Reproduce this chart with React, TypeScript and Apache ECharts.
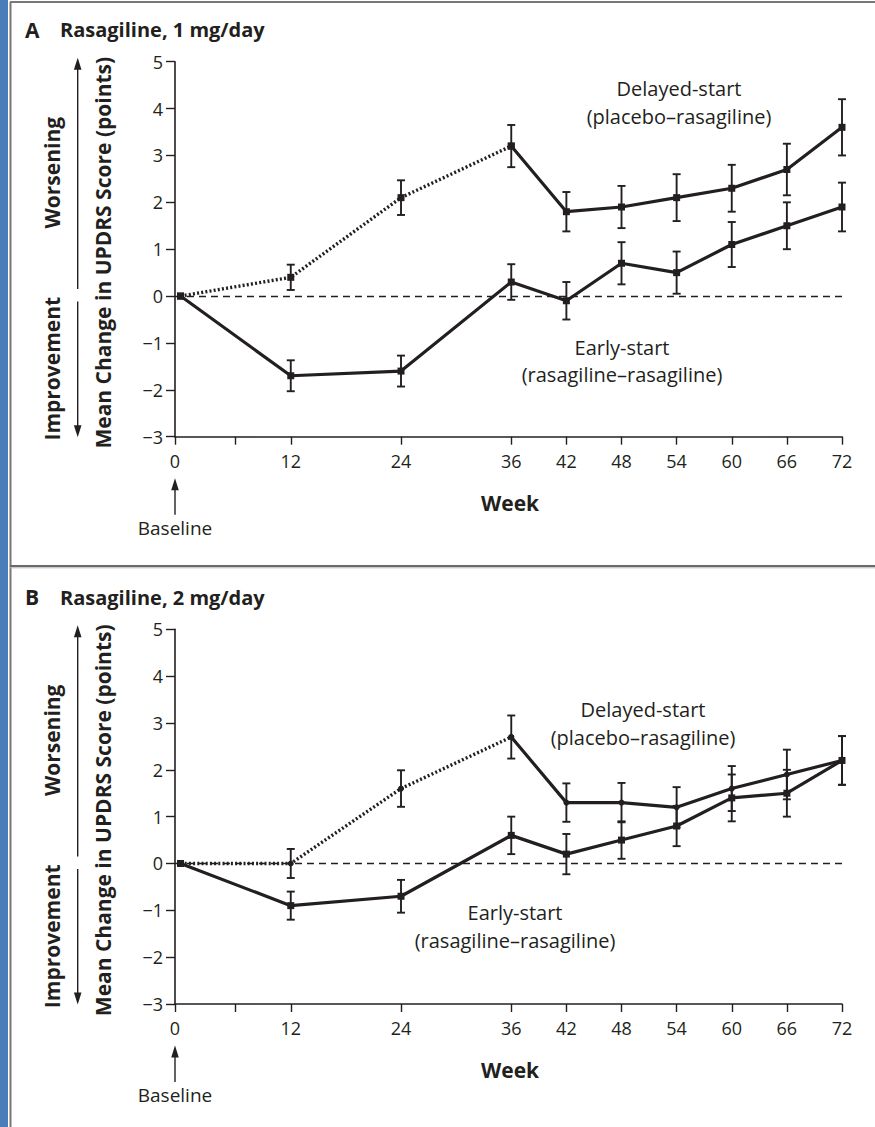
import React, { useEffect, useRef } from "react";
import * as echarts from "echarts";

// ---------- data ----------
const weeks = [0, 12, 24, 36, 42, 48, 54, 60, 66, 72];
const tickWeeks = [0, 6, 12, 24, 36, 42, 48, 54, 60, 66, 72];
const labelWeeks = [0, 12, 24, 36, 42, 48, 54, 60, 66, 72];
const switchWeek = 36; // delayed-start group switches from placebo to rasagiline

// Panel A: Rasagiline 1 mg/day
const delayedA = [0, 0.4, 2.1, 3.2, 1.8, 1.9, 2.1, 2.3, 2.7, 3.6];
const delayedAErr = [0, 0.27, 0.37, 0.45, 0.42, 0.45, 0.5, 0.5, 0.55, 0.6];
const earlyA = [0, -1.7, -1.6, 0.3, -0.1, 0.7, 0.5, 1.1, 1.5, 1.9];
const earlyAErr = [0, 0.33, 0.33, 0.38, 0.4, 0.45, 0.45, 0.48, 0.5, 0.52];

// Panel B: Rasagiline 2 mg/day
const delayedB = [0, 0, 1.6, 2.7, 1.3, 1.3, 1.2, 1.6, 1.9, 2.2];
const delayedBErr = [0, 0.31, 0.39, 0.46, 0.41, 0.42, 0.43, 0.48, 0.53, 0.52];
const earlyB = [0, -0.9, -0.7, 0.6, 0.2, 0.5, 0.8, 1.4, 1.5, 2.2];
const earlyBErr = [0, 0.3, 0.35, 0.4, 0.43, 0.4, 0.43, 0.5, 0.5, 0.52];

const yMin = -3;
const yMax = 5;

// ---------- style / layout ----------
const FONT = "'Open Sans', 'Liberation Sans', sans-serif";
const INK = "#231f20";
const AXIS_START = -0.6; // axis origin sits a touch left of week 0

const panels = [
  {
    letter: "A",
    title: "Rasagiline, 1 mg/day",
    gridTop: 61.7,
    gridBottom: 436.7,
    delayed: delayedA,
    delayedErr: delayedAErr,
    early: earlyA,
    earlyErr: earlyAErr,
    delayedSymbol: "rect",
    delayedLabel: { x: 679, y1: 88, y2: 116 },
    earlyLabel: { x: 622, y1: 347, y2: 374 },
  },
  {
    letter: "B",
    title: "Rasagiline, 2 mg/day",
    gridTop: 629.3,
    gridBottom: 1004,
    delayed: delayedB,
    delayedErr: delayedBErr,
    early: earlyB,
    earlyErr: earlyBErr,
    delayedSymbol: "circle",
    delayedLabel: { x: 643, y1: 709, y2: 737 },
    earlyLabel: { x: 515, y1: 912, y2: 940 },
  },
];

const minus = (v: number) => (v < 0 ? "\u2212" + Math.abs(v) : String(v));

function errRender(params: any, api: any) {
  const x = api.value(0);
  const lo = api.value(1);
  const hi = api.value(2);
  const p1 = api.coord([x, lo]);
  const p2 = api.coord([x, hi]);
  const w = 4;
  const style = { stroke: INK, lineWidth: 1.9, fill: null };
  return {
    type: "group",
    children: [
      { type: "line", shape: { x1: p1[0], y1: p1[1], x2: p2[0], y2: p2[1] }, style },
      { type: "line", shape: { x1: p1[0] - w, y1: p1[1], x2: p1[0] + w, y2: p1[1] }, style },
      { type: "line", shape: { x1: p2[0] - w, y1: p2[1], x2: p2[0] + w, y2: p2[1] }, style },
    ],
  };
}

function errData(vals: number[], errs: number[]) {
  const out: number[][] = [];
  weeks.forEach((w, i) => {
    if (errs[i] > 0) out.push([w, vals[i] - errs[i], vals[i] + errs[i]]);
  });
  return out;
}

function pairs(vals: number[], from: number, to: number) {
  const out: number[][] = [];
  weeks.forEach((w, i) => {
    if (w >= from && w <= to) out.push([w, vals[i]]);
  });
  return out;
}

function txt(x: number, y: number, text: string, size: number, bold = false, rotate = 0, align = "center") {
  return {
    type: "text",
    x,
    y,
    rotation: rotate,
    silent: true,
    style: {
      text,
      fill: INK,
      font: `${bold ? "bold " : ""}${size}px ${FONT}`,
      textAlign: align,
      textVerticalAlign: "middle",
    },
  };
}

function arrowUp(x: number, tip: number, base: number) {
  return [
    { type: "line", shape: { x1: x, y1: base, x2: x, y2: tip + 8 }, style: { stroke: INK, lineWidth: 1.4 } },
    { type: "polygon", shape: { points: [[x, tip], [x - 3.8, tip + 12], [x + 3.8, tip + 12]] }, style: { fill: INK } },
  ];
}
function arrowDown(x: number, tip: number, base: number) {
  return [
    { type: "line", shape: { x1: x, y1: base, x2: x, y2: tip - 8 }, style: { stroke: INK, lineWidth: 1.4 } },
    { type: "polygon", shape: { points: [[x, tip], [x - 3.8, tip - 12], [x + 3.8, tip - 12]] }, style: { fill: INK } },
  ];
}

export default function App() {
  const ref = useRef<HTMLDivElement>(null);

  useEffect(() => {
    if (!ref.current) return;
    const chart = echarts.init(ref.current, undefined, { renderer: "svg" });

    const grids: any[] = [];
    const xAxes: any[] = [];
    const yAxes: any[] = [];
    const series: any[] = [];
    const graphics: any[] = [];

    // frame
    graphics.push(
      { type: "rect", shape: { x: 0, y: 0, width: 8, height: 1127 }, style: { fill: "#4a7dba" }, silent: true },
      { type: "line", shape: { x1: 10.5, y1: 2, x2: 10.5, y2: 1127 }, style: { stroke: "#777", lineWidth: 2 }, silent: true },
      { type: "line", shape: { x1: 10, y1: 2, x2: 875, y2: 2 }, style: { stroke: "#777", lineWidth: 2 }, silent: true },
      { type: "line", shape: { x1: 10, y1: 566, x2: 875, y2: 566 }, style: { stroke: "#6a6a6a", lineWidth: 2 }, silent: true },
      { type: "line", shape: { x1: 10, y1: 567.8, x2: 875, y2: 567.8 }, style: { stroke: "#b5b5b5", lineWidth: 1 }, silent: true }
    );

    panels.forEach((p, idx) => {
      const gt = p.gridTop;
      const gb = p.gridBottom;
      const unit = (gb - gt) / (yMax - yMin);
      const zeroY = gt + yMax * unit;

      grids.push({ left: 175, right: 33, top: gt, height: gb - gt, containLabel: false });

      xAxes.push({
        type: "value",
        gridIndex: idx,
        min: AXIS_START,
        max: 72,
        axisLine: { show: true, onZero: false, lineStyle: { color: INK, width: 1.6 } },
        axisTick: {
          show: true,
          length: 8,
          lineStyle: { color: INK, width: 1.4 },
          customValues: tickWeeks.map((w) => (w === 0 ? AXIS_START : w)),
        },
        axisLabel: {
          show: true,
          margin: 15,
          color: INK,
          fontSize: 18,
          fontFamily: FONT,
          customValues: labelWeeks.map((w) => (w === 0 ? AXIS_START : w)),
          formatter: (v: number) => (v <= 0 ? "0" : String(v)),
        },
        splitLine: { show: false },
      });

      yAxes.push({
        type: "value",
        gridIndex: idx,
        min: yMin,
        max: yMax,
        interval: 1,
        axisLine: { show: true, onZero: false, lineStyle: { color: INK, width: 1.6 } },
        axisTick: { show: true, length: 9, lineStyle: { color: INK, width: 1.4 } },
        axisLabel: {
          show: true,
          margin: 12,
          color: INK,
          fontSize: 18,
          fontFamily: FONT,
          formatter: (v: number) => minus(v),
        },
        splitLine: { show: false },
      });

      // zero reference line
      series.push({
        type: "line",
        xAxisIndex: idx,
        yAxisIndex: idx,
        data: [],
        silent: true,
        markLine: {
          silent: true,
          symbol: "none",
          label: { show: false },
          lineStyle: { color: INK, type: [7, 5], width: 1.3 },
          data: [{ yAxis: 0 }],
        },
      });

      // error bars
      series.push({
        type: "custom",
        xAxisIndex: idx,
        yAxisIndex: idx,
        renderItem: errRender,
        encode: { x: 0, y: [1, 2] },
        data: errData(p.delayed, p.delayedErr),
        z: 3,
        silent: true,
      });
      series.push({
        type: "custom",
        xAxisIndex: idx,
        yAxisIndex: idx,
        renderItem: errRender,
        encode: { x: 0, y: [1, 2] },
        data: errData(p.early, p.earlyErr),
        z: 3,
        silent: true,
      });

      // delayed-start: placebo phase (dotted)
      series.push({
        type: "line",
        name: "Delayed-start placebo phase",
        xAxisIndex: idx,
        yAxisIndex: idx,
        data: pairs(p.delayed, 0, switchWeek),
        symbol: p.delayedSymbol,
        symbolSize: p.delayedSymbol === "rect" ? 7 : 6,
        itemStyle: { color: INK },
        lineStyle: { color: INK, width: 3.4, type: [2, 2.2], cap: "butt" },
        z: 4,
        silent: true,
      });
      // delayed-start: rasagiline phase (solid)
      series.push({
        type: "line",
        name: "Delayed-start rasagiline phase",
        xAxisIndex: idx,
        yAxisIndex: idx,
        data: pairs(p.delayed, switchWeek, 72),
        symbol: p.delayedSymbol,
        symbolSize: p.delayedSymbol === "rect" ? 7 : 6,
        itemStyle: { color: INK },
        lineStyle: { color: INK, width: 3.2 },
        z: 4,
        silent: true,
      });
      // early-start (solid)
      series.push({
        type: "line",
        name: "Early-start",
        xAxisIndex: idx,
        yAxisIndex: idx,
        data: pairs(p.early, 0, 72),
        symbol: "rect",
        symbolSize: 7,
        itemStyle: { color: INK },
        lineStyle: { color: INK, width: 3.2 },
        z: 4,
        silent: true,
      });

      // texts
      graphics.push(txt(25, gt - 32, p.letter, 21, true, 0, "left"));
      graphics.push(txt(60, gt - 32, p.title, 20, true, 0, "left"));
      graphics.push(txt(52, gt + 111, "Worsening", 21, true, Math.PI / 2));
      graphics.push(txt(52, gt + 307, "Improvement", 21, true, Math.PI / 2));
      graphics.push(txt(103, gt + 191, "Mean Change in UPDRS Score (points)", 21, true, Math.PI / 2));
      graphics.push(...arrowUp(77.7, gt - 4, zeroY - 7));
      graphics.push(...arrowDown(77.7, gb + 0.5, zeroY + 5.5));
      graphics.push(txt(p.delayedLabel.x, p.delayedLabel.y1, "Delayed-start", 20));
      graphics.push(txt(p.delayedLabel.x, p.delayedLabel.y2, "(placebo\u2013rasagiline)", 20));
      graphics.push(txt(p.earlyLabel.x, p.earlyLabel.y1, "Early-start", 20));
      graphics.push(txt(p.earlyLabel.x, p.earlyLabel.y2, "(rasagiline\u2013rasagiline)", 20));
      graphics.push(txt(510, gb + 66, "Week", 21, true));
      graphics.push(...arrowUp(175, gb + 41.5, gb + 78));
      graphics.push(txt(175, gb + 91, "Baseline", 19));
    });

    chart.setOption({
      animation: false,
      backgroundColor: "#ffffff",
      grid: grids,
      xAxis: xAxes,
      yAxis: yAxes,
      series,
      graphic: { elements: graphics },
    });

    return () => chart.dispose();
  }, []);

  return (
    <div
      ref={ref}
      style={{ position: "absolute", left: 0, top: 0, width: 875, height: 1127, background: "#fff" }}
    />
  );
}
